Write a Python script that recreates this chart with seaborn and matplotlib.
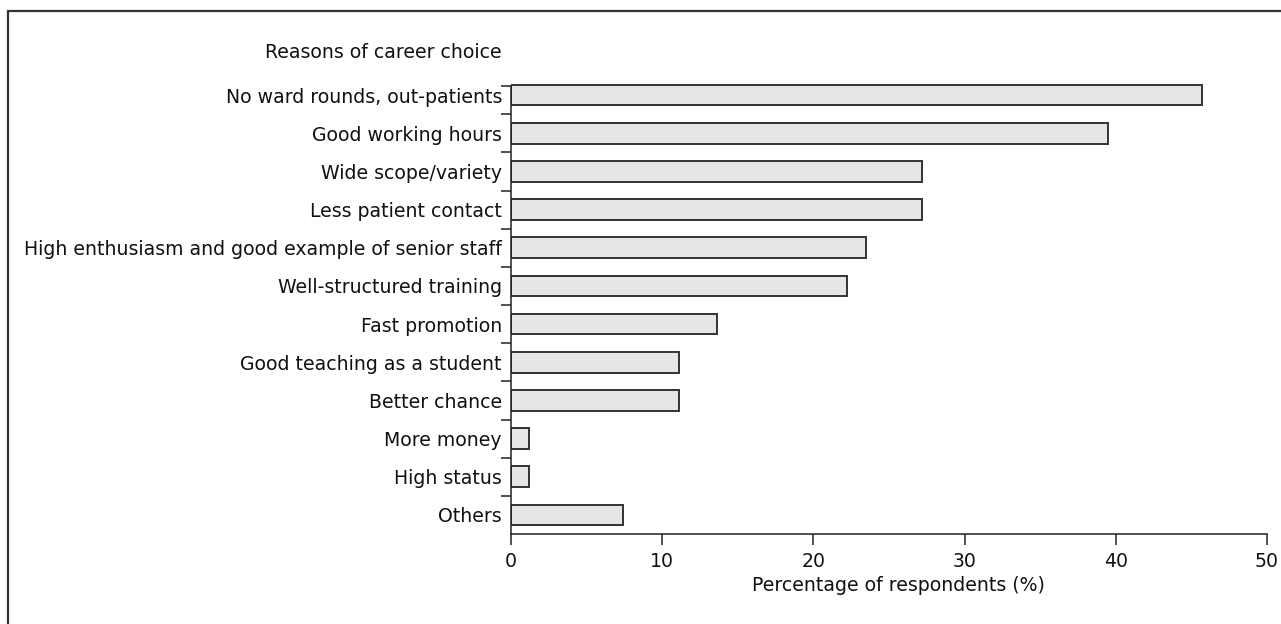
import matplotlib
matplotlib.use("Agg")
import matplotlib.pyplot as plt
import seaborn as sns
import pandas as pd
from matplotlib.patches import Rectangle

# data (percent of respondents)
reasons = [
    "No ward rounds, out-patients",
    "Good working hours",
    "Wide scope/variety",
    "Less patient contact",
    "High enthusiasm and good example of senior staff",
    "Well-structured training",
    "Fast promotion",
    "Good teaching as a student",
    "Better chance",
    "More money",
    "High status",
    "Others",
]
percent = [45.7, 39.5, 27.2, 27.2, 23.5, 22.2, 13.6, 11.1, 11.1, 1.2, 1.2, 7.4]
x_ticks = [0, 10, 20, 30, 40, 50]

df = pd.DataFrame({"Reason": reasons, "Percent": percent})

sns.set_theme(style="ticks")
plt.rcParams["font.family"] = ["DejaVu Sans"]
ink = "#111111"
plt.rcParams["text.color"] = ink
plt.rcParams["axes.labelcolor"] = ink
plt.rcParams["xtick.labelcolor"] = ink
plt.rcParams["ytick.labelcolor"] = ink

fig = plt.figure(figsize=(12.81, 6.24), dpi=100)
# axes spans 12 category slots: top edge at 76 px, x axis at 534 px
ax = fig.add_axes([511 / 1281, 1 - 534 / 624, 756 / 1281, 458 / 624])

sns.barplot(data=df, x="Percent", y="Reason", orient="h", order=reasons,
            color="#e6e6e6", edgecolor="#333333", linewidth=1.4,
            width=0.54, saturation=1, ax=ax)

n = len(reasons)
ax.set_xlim(0, 50)
ax.set_ylim(n - 0.5, -0.5)
ax.spines["left"].set_bounds(n - 0.5, -0.24)

# tick marks sit between categories, labels at category centres
ax.set_yticks([-0.24] + [i + 0.5 for i in range(n - 1)])
ax.set_yticklabels([])
ax.set_yticks(range(n), minor=True)
ax.set_yticklabels(reasons, minor=True, fontsize=13.6)
ax.tick_params(axis="y", which="major", length=7.5, width=1.1, color="#222222")
ax.tick_params(axis="y", which="minor", length=0, pad=6.5)

ax.set_xticks(x_ticks)
ax.set_xticklabels([str(t) for t in x_ticks], fontsize=13.6)
ax.tick_params(axis="x", length=8, width=1.1, color="#222222", pad=5)

ax.set_ylabel("")
ax.set_xlabel("Percentage of respondents (%)", fontsize=13.6)
ax.xaxis.set_label_coords(0.512, -0.092)

sns.despine(ax=ax)
for s in ["left", "bottom"]:
    ax.spines[s].set_linewidth(1.1)
    ax.spines[s].set_color("#222222")

fig.text(502 / 1281, 1 - 53 / 624, "Reasons of career choice",
         ha="right", va="center", fontsize=13.6)

# frame around the figure (only top and left edges show in the crop)
fig.patches.append(Rectangle((8 / 1281, -0.1), 1.2, 0.1 + (1 - 10.7 / 624),
                             transform=fig.transFigure, fill=False,
                             edgecolor="#333333", linewidth=1.6))

fig.savefig("out.png", dpi=100)
